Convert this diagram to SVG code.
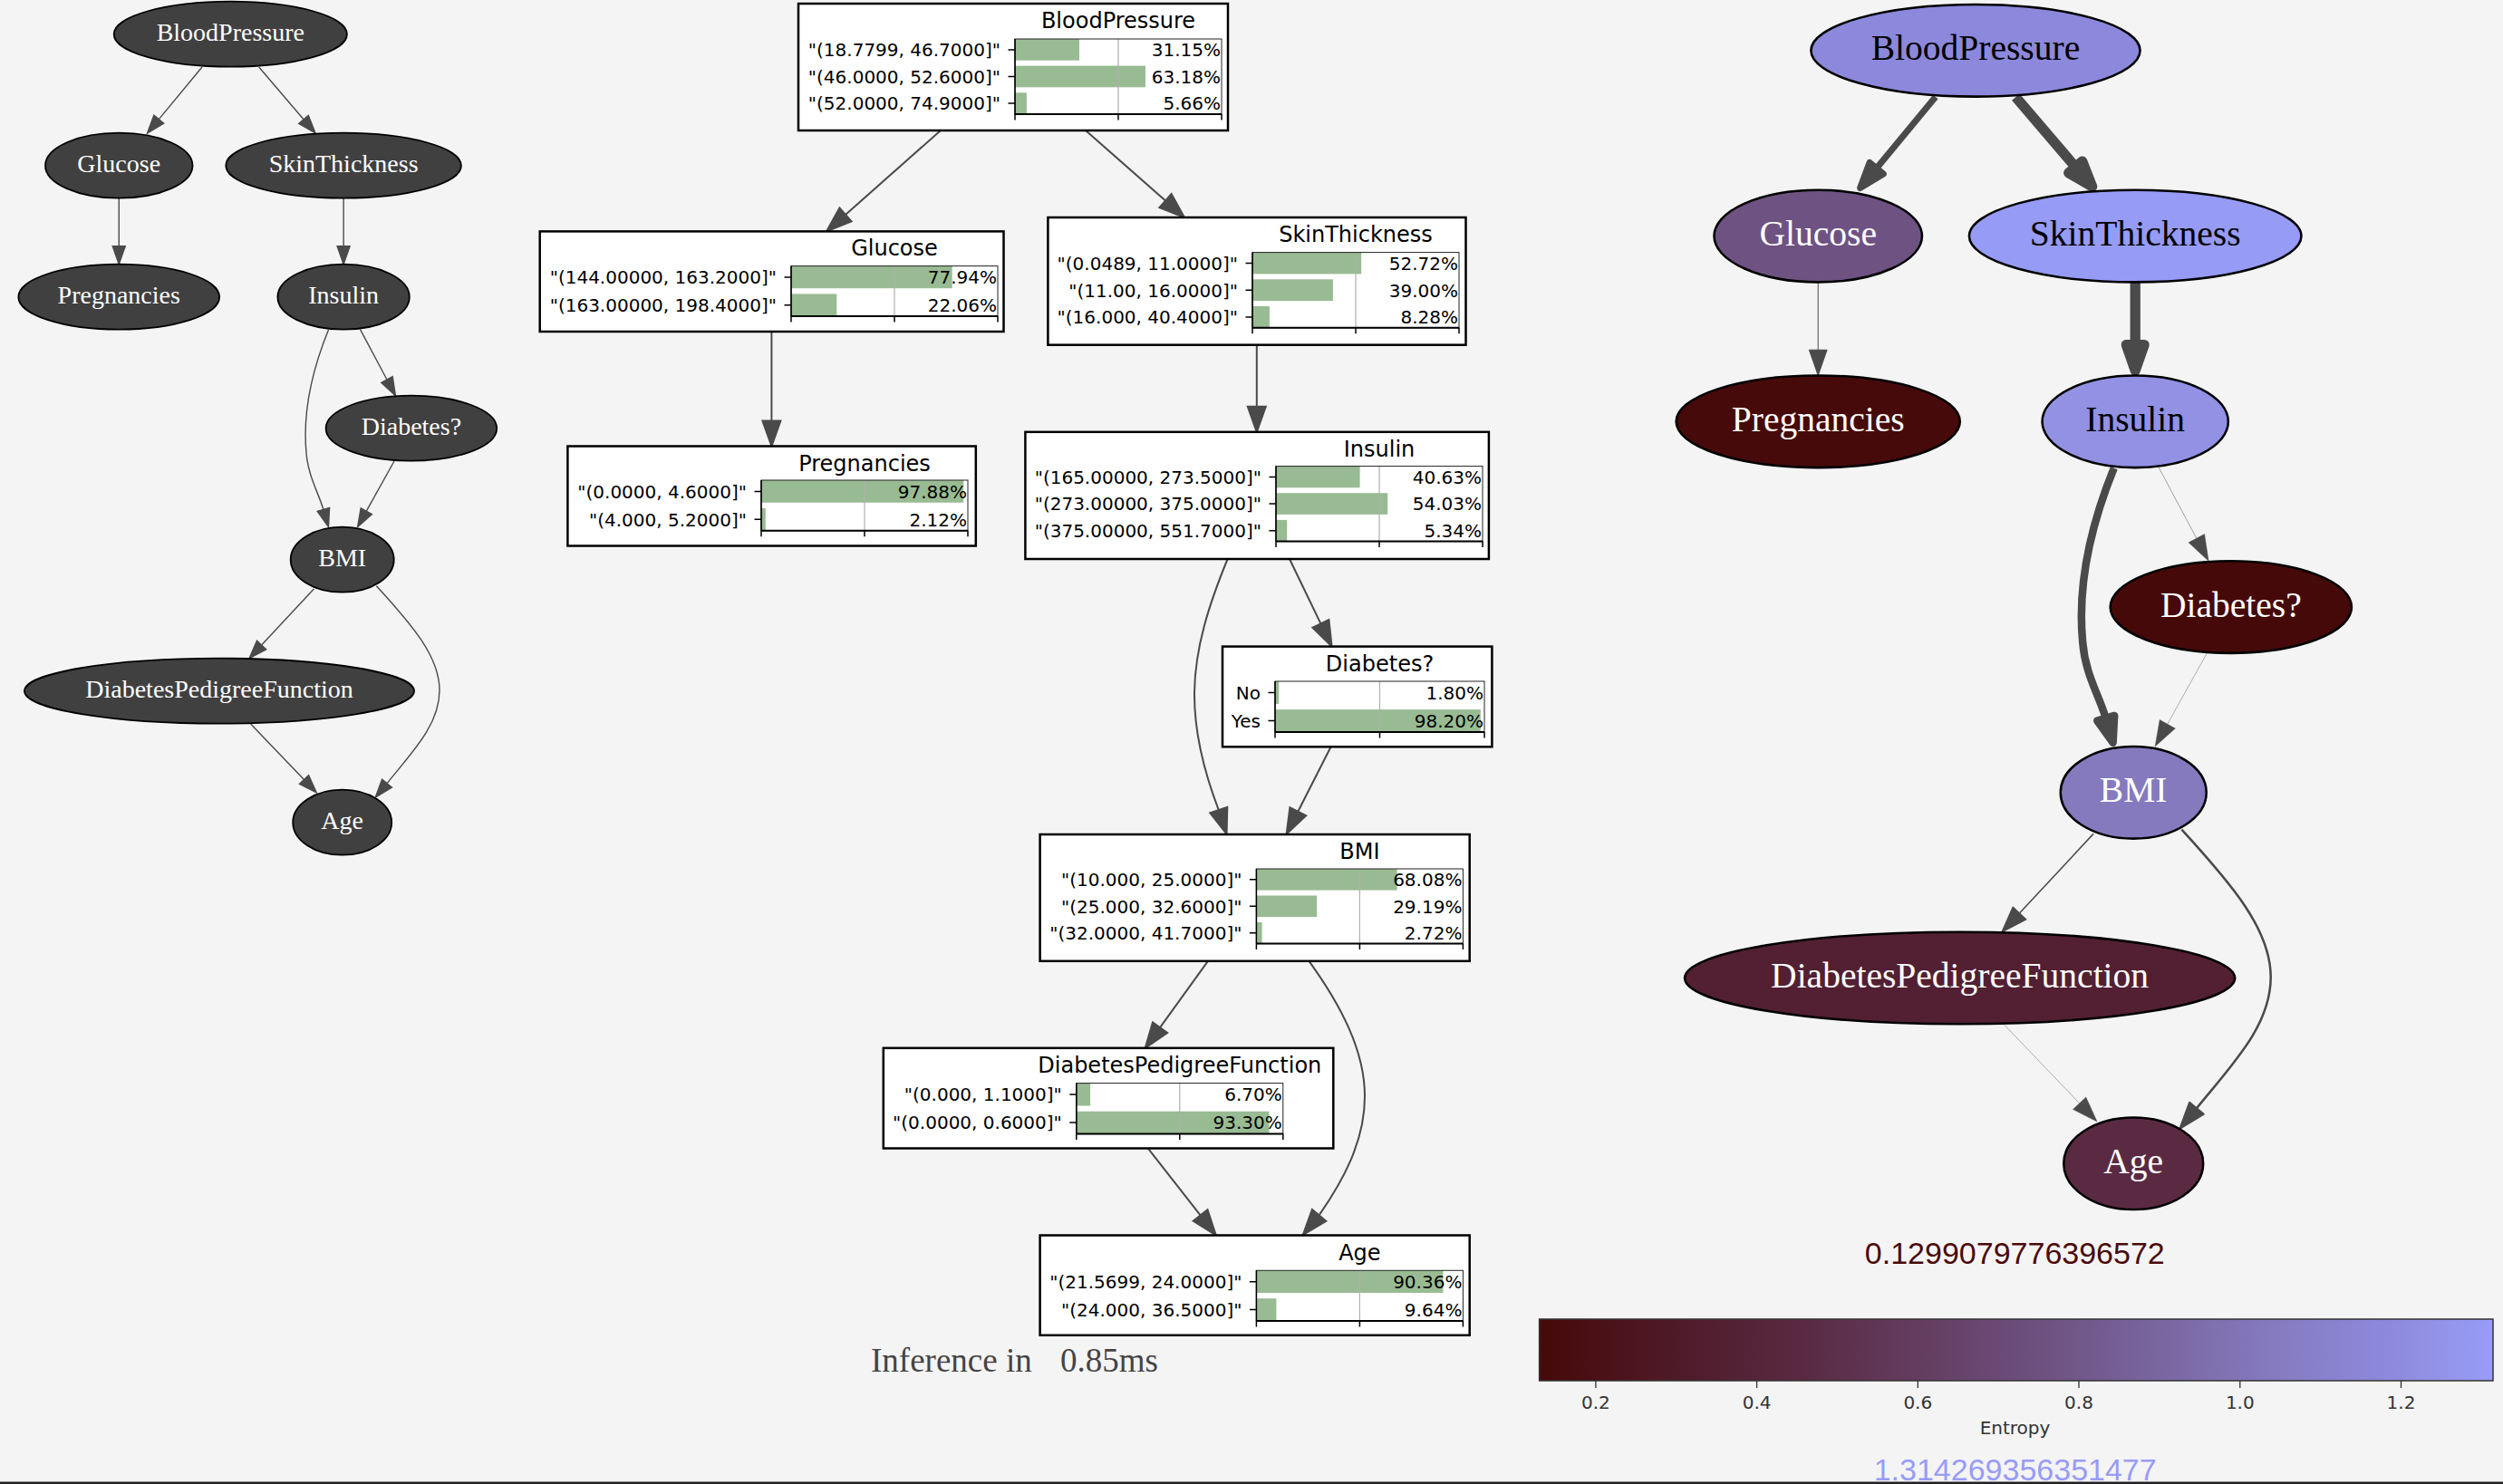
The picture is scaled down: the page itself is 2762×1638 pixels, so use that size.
<svg xmlns="http://www.w3.org/2000/svg" width="2762" height="1638" viewBox="0 0 2762 1638">
<defs>
<linearGradient id="cmap" x1="0" y1="0" x2="1" y2="0">
<stop offset="0" stop-color="#460909"/>
<stop offset="0.19" stop-color="#522032"/>
<stop offset="0.277" stop-color="#5a2a42"/>
<stop offset="0.533" stop-color="#6e5282"/>
<stop offset="0.766" stop-color="#857abe"/>
<stop offset="0.884" stop-color="#8c88db"/>
<stop offset="0.932" stop-color="#9291e4"/>
<stop offset="1" stop-color="#979cf8"/>
</linearGradient>
<style>
.gn{stroke:#000;stroke-width:1.8}
.gd{fill:#404040}
.gt{font-family:"Liberation Serif","Times New Roman",serif;font-size:28px;fill:#fff;text-anchor:middle}
.bk{fill:#000}
.ge{fill:none;stroke:#4a4a4a;stroke-width:1.4}
.ga{fill:#4a4a4a;stroke:#4a4a4a;stroke-width:1.4}
.re{fill:none;stroke:#4a4a4a}
.ra{fill:#4a4a4a;stroke:#4a4a4a;stroke-linejoin:round}
.me{fill:none;stroke:#4a4a4a;stroke-width:2}
.ma{fill:#4a4a4a;stroke:#4a4a4a;stroke-width:2}
.bx{fill:#fff;stroke:#000;stroke-width:2.5}
.ttl{font-family:"DejaVu Sans",sans-serif;font-size:24px;fill:#000;text-anchor:middle}
.lb{font-family:"DejaVu Sans",sans-serif;font-size:20px;fill:#000;text-anchor:end}
.cb{fill:#fff}
.fr{fill:none;stroke:#222;stroke-width:1}
.bar{fill:#99bb93}
.grd{stroke:#b0b0b0;stroke-width:1.2}
.ax{stroke:#000;stroke-width:2}
.tk{stroke:#000;stroke-width:1.5;fill:none}
.inf{font-family:"Liberation Serif","Times New Roman",serif;font-size:37px;fill:#444}
.ctk{font-family:"DejaVu Sans",sans-serif;font-size:20px;fill:#333;text-anchor:middle}
.num{font-family:"Liberation Sans",Arial,sans-serif;font-size:34px;text-anchor:middle}
</style>
</defs>
<rect x="0" y="0" width="2762" height="1638" fill="#f4f4f4"/>

<!-- LEFT GRAPH -->
<g id="left-connectors">
<path class="ge" d="M223,74 L175.3,131.6"/><polygon class="ga" points="162.5,147 169.9,127.1 180.7,136.1"/>
<path class="ge" d="M285.7,74 L335,131.8"/><polygon class="ga" points="348,147 329.7,136.3 340.3,127.3"/>
<path class="ge" d="M131.25,218.7 L131.25,271.7"/><polygon class="ga" points="131.25,291.7 124.25,271.7 138.25,271.7"/>
<path class="ge" d="M379.1,218.7 L379.1,271.7"/><polygon class="ga" points="379.1,291.7 372.1,271.7 386.1,271.7"/>
<path class="ge" d="M397.5,363.6 L427,419"/><polygon class="ga" points="436.4,436.7 420.8,422.3 433.2,415.7"/>
<path class="ge" d="M362.5,364 C343,412 334,458 338,500 C340,525 351,543 356.9,562.5"/><polygon class="ga" points="362.5,581.7 350.2,564.5 363.6,560.5"/>
<path class="ge" d="M435,509 L404.3,564.2"/><polygon class="ga" points="394.6,581.7 398.2,560.8 410.4,567.6"/>
<path class="ge" d="M346.4,650 L288.6,712.1"/><polygon class="ga" points="275,726.7 283.5,707.3 293.7,716.9"/>
<path class="ge" d="M415.4,646.7 C455,690 485,725 485,762 C485,800 455,830 427,864.6"/><polygon class="ga" points="414.3,880 421.6,860.2 432.4,869.1"/>
<path class="ge" d="M276.8,799.3 L335.5,860.6"/><polygon class="ga" points="349.3,875 330.4,865.4 340.6,855.8"/>
</g>
<g id="left-BloodPressure"><ellipse class="gn gd" cx="254.3" cy="37.7" rx="128.6" ry="36"/><text class="gt" x="254.3" y="45.2">BloodPressure</text></g>
<g id="left-Glucose"><ellipse class="gn gd" cx="131.25" cy="182.7" rx="81.25" ry="36"/><text class="gt" x="131.25" y="190.2">Glucose</text></g>
<g id="left-SkinThickness"><ellipse class="gn gd" cx="379.1" cy="182.7" rx="129.8" ry="36"/><text class="gt" x="379.1" y="190.2">SkinThickness</text></g>
<g id="left-Pregnancies"><ellipse class="gn gd" cx="131.25" cy="327.7" rx="110.9" ry="36"/><text class="gt" x="131.25" y="335.2">Pregnancies</text></g>
<g id="left-Insulin"><ellipse class="gn gd" cx="379.1" cy="327.7" rx="72.7" ry="36"/><text class="gt" x="379.1" y="335.2">Insulin</text></g>
<g id="left-Diabetes"><ellipse class="gn gd" cx="453.9" cy="472.7" rx="94.3" ry="36"/><text class="gt" x="453.9" y="480.2">Diabetes?</text></g>
<g id="left-BMI"><ellipse class="gn gd" cx="377.7" cy="617.7" rx="57" ry="36"/><text class="gt" x="377.7" y="625.2">BMI</text></g>
<g id="left-DiabetesPedigreeFunction"><ellipse class="gn gd" cx="242" cy="762.7" rx="215" ry="36"/><text class="gt" x="242" y="770.2">DiabetesPedigreeFunction</text></g>
<g id="left-Age"><ellipse class="gn gd" cx="377.7" cy="907.7" rx="54.5" ry="36"/><text class="gt" x="377.7" y="915.2">Age</text></g>

<!-- MIDDLE GRAPH -->
<g id="mid-connectors">
<path class="me" d="M1038,144 L933,236.9"/><polygon class="ma" points="912,255.4 926.4,229.4 939.6,244.4"/>
<path class="me" d="M1198,144 L1286,221.5"/><polygon class="ma" points="1307,240 1279.4,229 1292.6,214"/>
<path class="me" d="M851.4,366 L851.4,464.5"/><polygon class="ma" points="851.4,492.5 841.4,464.5 861.4,464.5"/>
<path class="me" d="M1386.8,380.7 L1386.8,448.8"/><polygon class="ma" points="1386.8,476.8 1376.8,448.8 1396.8,448.8"/>
<path class="me" d="M1423,617 L1457.4,688.4"/><polygon class="ma" points="1469.6,713.6 1448.4,692.7 1466.4,684.1"/>
<path class="me" d="M1354.6,617 C1335,665 1318,715 1318,767 C1318,815 1331,858 1344.8,894.1"/><polygon class="ma" points="1353.6,920.7 1335.3,897.3 1354.3,890.9"/>
<path class="me" d="M1468.6,824.3 L1432.3,895.7"/><polygon class="ma" points="1419.6,920.7 1423.4,891.2 1441.2,900.2"/>
<path class="me" d="M1332.9,1060.8 L1280.1,1134.1"/><polygon class="ma" points="1263.7,1156.8 1272,1128.3 1288.2,1140"/>
<path class="me" d="M1444.5,1060.8 C1480,1110 1506,1160 1506,1210 C1506,1260 1482,1303 1455.6,1341.4"/><polygon class="ma" points="1437.8,1363 1447.9,1335 1463.3,1347.8"/>
<path class="me" d="M1266.8,1267.5 L1324.6,1341.4"/><polygon class="ma" points="1341.8,1363.5 1316.7,1347.6 1332.5,1335.2"/>
</g>

<g id="mid-BloodPressure">
<rect class="bx" x="881" y="4" width="474" height="140"/>
<text class="ttl" x="1234" y="31">BloodPressure</text>
<rect class="cb" x="1120" y="43" width="228" height="83"/>
<rect class="bar" x="1120" y="43" width="71" height="23.7"/>
<rect class="bar" x="1120" y="72.6" width="144" height="23.7"/>
<rect class="bar" x="1120" y="102.3" width="12.9" height="23.7"/>
<line class="grd" x1="1234" y1="43" x2="1234" y2="126"/>
<rect class="fr" x="1120" y="43" width="228" height="83"/>
<line class="ax" x1="1120" y1="126" x2="1348" y2="126"/>
<path class="tk" d="M1120,126v6.5M1234,126v6.5M1348,126v6.5M1112.5,54.9h7.5M1112.5,84.5h7.5M1112.5,114.1h7.5M1120,43v83"/>
<text class="lb" x="1104" y="62.2">"(18.7799, 46.7000]"</text>
<text class="lb" x="1104" y="91.8">"(46.0000, 52.6000]"</text>
<text class="lb" x="1104" y="121.4">"(52.0000, 74.9000]"</text>
<text class="lb" x="1347" y="62.2">31.15%</text>
<text class="lb" x="1347" y="91.8">63.18%</text>
<text class="lb" x="1347" y="121.4">5.66%</text>
</g>

<g id="mid-Glucose">
<rect class="bx" x="595.7" y="255.4" width="511.8" height="110.6"/>
<text class="ttl" x="987" y="282.4">Glucose</text>
<rect class="cb" x="873" y="293.6" width="228" height="55.4"/>
<rect class="bar" x="873" y="293.6" width="177.7" height="24.6"/>
<rect class="bar" x="873" y="324.4" width="50.3" height="24.6"/>
<line class="grd" x1="987" y1="293.6" x2="987" y2="349"/>
<rect class="fr" x="873" y="293.6" width="228" height="55.4"/>
<line class="ax" x1="873" y1="349" x2="1101" y2="349"/>
<path class="tk" d="M873,349v6.5M987,349v6.5M1101,349v6.5M865.5,305.9h7.5M865.5,336.7h7.5M873,293.6v55.4"/>
<text class="lb" x="857" y="313.2">"(144.00000, 163.2000]"</text>
<text class="lb" x="857" y="344">"(163.00000, 198.4000]"</text>
<text class="lb" x="1100" y="313.2">77.94%</text>
<text class="lb" x="1100" y="344">22.06%</text>
</g>

<g id="mid-SkinThickness">
<rect class="bx" x="1156.4" y="240" width="461.1" height="140.7"/>
<text class="ttl" x="1496" y="267">SkinThickness</text>
<rect class="cb" x="1382" y="278.6" width="228" height="83.2"/>
<rect class="bar" x="1382" y="278.6" width="120.2" height="23.8"/>
<rect class="bar" x="1382" y="308.3" width="88.9" height="23.8"/>
<rect class="bar" x="1382" y="338" width="18.9" height="23.8"/>
<line class="grd" x1="1496" y1="278.6" x2="1496" y2="361.8"/>
<rect class="fr" x="1382" y="278.6" width="228" height="83.2"/>
<line class="ax" x1="1382" y1="361.8" x2="1610" y2="361.8"/>
<path class="tk" d="M1382,361.8v6.5M1496,361.8v6.5M1610,361.8v6.5M1374.5,290.5h7.5M1374.5,320.2h7.5M1374.5,349.9h7.5M1382,278.6v83.2"/>
<text class="lb" x="1366" y="297.8">"(0.0489, 11.0000]"</text>
<text class="lb" x="1366" y="327.5">"(11.00, 16.0000]"</text>
<text class="lb" x="1366" y="357.2">"(16.000, 40.4000]"</text>
<text class="lb" x="1609" y="297.8">52.72%</text>
<text class="lb" x="1609" y="327.5">39.00%</text>
<text class="lb" x="1609" y="357.2">8.28%</text>
</g>

<g id="mid-Pregnancies">
<rect class="bx" x="626.4" y="492.5" width="450.4" height="110"/>
<text class="ttl" x="954" y="519.5">Pregnancies</text>
<rect class="cb" x="840" y="530" width="228" height="55.7"/>
<rect class="bar" x="840" y="530" width="223.2" height="24.75"/>
<rect class="bar" x="840" y="560.9" width="4.8" height="24.75"/>
<line class="grd" x1="954" y1="530" x2="954" y2="585.7"/>
<rect class="fr" x="840" y="530" width="228" height="55.7"/>
<line class="ax" x1="840" y1="585.7" x2="1068" y2="585.7"/>
<path class="tk" d="M840,585.7v6.5M954,585.7v6.5M1068,585.7v6.5M832.5,542.4h7.5M832.5,573.3h7.5M840,530v55.7"/>
<text class="lb" x="824" y="549.7">"(0.0000, 4.6000]"</text>
<text class="lb" x="824" y="580.6">"(4.000, 5.2000]"</text>
<text class="lb" x="1067" y="549.7">97.88%</text>
<text class="lb" x="1067" y="580.6">2.12%</text>
</g>

<g id="mid-Insulin">
<rect class="bx" x="1131.4" y="476.8" width="511.5" height="140.2"/>
<text class="ttl" x="1522" y="503.8">Insulin</text>
<rect class="cb" x="1408" y="514.6" width="228" height="83"/>
<rect class="bar" x="1408" y="514.6" width="92.6" height="23.7"/>
<rect class="bar" x="1408" y="544.2" width="123.2" height="23.7"/>
<rect class="bar" x="1408" y="573.9" width="12.2" height="23.7"/>
<line class="grd" x1="1522" y1="514.6" x2="1522" y2="597.6"/>
<rect class="fr" x="1408" y="514.6" width="228" height="83"/>
<line class="ax" x1="1408" y1="597.6" x2="1636" y2="597.6"/>
<path class="tk" d="M1408,597.6v6.5M1522,597.6v6.5M1636,597.6v6.5M1400.5,526.5h7.5M1400.5,556.1h7.5M1400.5,585.7h7.5M1408,514.6v83"/>
<text class="lb" x="1392" y="533.8">"(165.00000, 273.5000]"</text>
<text class="lb" x="1392" y="563.4">"(273.00000, 375.0000]"</text>
<text class="lb" x="1392" y="593">"(375.00000, 551.7000]"</text>
<text class="lb" x="1635" y="533.8">40.63%</text>
<text class="lb" x="1635" y="563.4">54.03%</text>
<text class="lb" x="1635" y="593">5.34%</text>
</g>

<g id="mid-Diabetes">
<rect class="bx" x="1349" y="713.6" width="297.4" height="110.7"/>
<text class="ttl" x="1522.5" y="740.6">Diabetes?</text>
<rect class="cb" x="1407" y="752" width="231" height="56"/>
<rect class="bar" x="1407" y="752" width="4.2" height="24.9"/>
<rect class="bar" x="1407" y="783.1" width="226.8" height="24.9"/>
<line class="grd" x1="1522.5" y1="752" x2="1522.5" y2="808"/>
<rect class="fr" x="1407" y="752" width="231" height="56"/>
<line class="ax" x1="1407" y1="808" x2="1638" y2="808"/>
<path class="tk" d="M1407,808v6.5M1522.5,808v6.5M1638,808v6.5M1399.5,764.4h7.5M1399.5,795.5h7.5M1407,752v56"/>
<text class="lb" x="1391" y="771.7">No</text>
<text class="lb" x="1391" y="802.8">Yes</text>
<text class="lb" x="1637" y="771.7">1.80%</text>
<text class="lb" x="1637" y="802.8">98.20%</text>
</g>

<g id="mid-BMI">
<rect class="bx" x="1147.6" y="921" width="474.1" height="139.8"/>
<text class="ttl" x="1500.4" y="948">BMI</text>
<rect class="cb" x="1386.4" y="959" width="228" height="82.6"/>
<rect class="bar" x="1386.4" y="959" width="155.2" height="23.6"/>
<rect class="bar" x="1386.4" y="988.5" width="66.6" height="23.6"/>
<rect class="bar" x="1386.4" y="1018" width="6.2" height="23.6"/>
<line class="grd" x1="1500.4" y1="959" x2="1500.4" y2="1041.6"/>
<rect class="fr" x="1386.4" y="959" width="228" height="82.6"/>
<line class="ax" x1="1386.4" y1="1041.6" x2="1614.4" y2="1041.6"/>
<path class="tk" d="M1386.4,1041.6v6.5M1500.4,1041.6v6.5M1614.4,1041.6v6.5M1378.9,970.8h7.5M1378.9,1000.3h7.5M1378.9,1029.8h7.5M1386.4,959v82.6"/>
<text class="lb" x="1370.4" y="978.1">"(10.000, 25.0000]"</text>
<text class="lb" x="1370.4" y="1007.6">"(25.000, 32.6000]"</text>
<text class="lb" x="1370.4" y="1037.1">"(32.0000, 41.7000]"</text>
<text class="lb" x="1613.4" y="978.1">68.08%</text>
<text class="lb" x="1613.4" y="1007.6">29.19%</text>
<text class="lb" x="1613.4" y="1037.1">2.72%</text>
</g>

<g id="mid-DiabetesPedigreeFunction">
<rect class="bx" x="974.8" y="1156.8" width="496.5" height="110.7"/>
<text class="ttl" x="1301.8" y="1183.8">DiabetesPedigreeFunction</text>
<rect class="cb" x="1187.8" y="1195.6" width="228" height="56"/>
<rect class="bar" x="1187.8" y="1195.6" width="15.3" height="24.9"/>
<rect class="bar" x="1187.8" y="1226.7" width="212.7" height="24.9"/>
<line class="grd" x1="1301.8" y1="1195.6" x2="1301.8" y2="1251.6"/>
<rect class="fr" x="1187.8" y="1195.6" width="228" height="56"/>
<line class="ax" x1="1187.8" y1="1251.6" x2="1415.8" y2="1251.6"/>
<path class="tk" d="M1187.8,1251.6v6.5M1301.8,1251.6v6.5M1415.8,1251.6v6.5M1180.3,1208h7.5M1180.3,1239.1h7.5M1187.8,1195.6v56"/>
<text class="lb" x="1171.8" y="1215.3">"(0.000, 1.1000]"</text>
<text class="lb" x="1171.8" y="1246.4">"(0.0000, 0.6000]"</text>
<text class="lb" x="1414.8" y="1215.3">6.70%</text>
<text class="lb" x="1414.8" y="1246.4">93.30%</text>
</g>

<g id="mid-Age">
<rect class="bx" x="1147.6" y="1363.5" width="474.1" height="110.3"/>
<text class="ttl" x="1500.4" y="1390.5">Age</text>
<rect class="cb" x="1386.4" y="1402.3" width="228" height="55.7"/>
<rect class="bar" x="1386.4" y="1402.3" width="206" height="24.75"/>
<rect class="bar" x="1386.4" y="1433.2" width="22" height="24.75"/>
<line class="grd" x1="1500.4" y1="1402.3" x2="1500.4" y2="1458"/>
<rect class="fr" x="1386.4" y="1402.3" width="228" height="55.7"/>
<line class="ax" x1="1386.4" y1="1458" x2="1614.4" y2="1458"/>
<path class="tk" d="M1386.4,1458v6.5M1500.4,1458v6.5M1614.4,1458v6.5M1378.9,1414.7h7.5M1378.9,1445.6h7.5M1386.4,1402.3v55.7"/>
<text class="lb" x="1370.4" y="1422">"(21.5699, 24.0000]"</text>
<text class="lb" x="1370.4" y="1452.9">"(24.000, 36.5000]"</text>
<text class="lb" x="1613.4" y="1422">90.36%</text>
<text class="lb" x="1613.4" y="1452.9">9.64%</text>
</g>

<text class="inf" x="961" y="1514">Inference in<tspan x="1170">0.85ms</tspan></text>

<!-- RIGHT GRAPH -->
<g transform="translate(1820.9,2.58) scale(1.412)">
<g id="right-connectors">
<path class="re" stroke-width="5" d="M223,74 L176.9,129.7"/><polygon class="ra" stroke-width="5" points="164.1,145.1 171.5,125.2 182.3,134.2"/>
<path class="re" stroke-width="8" d="M285.7,74 L332.4,128.8"/><polygon class="ra" stroke-width="8" points="345.4,144 327.1,133.3 337.7,124.3"/>
<path class="re" stroke-width="0.7" d="M131.25,218.7 L131.25,271.7"/><polygon class="ra" stroke-width="0.7" points="131.25,291.7 124.25,271.7 138.25,271.7"/>
<path class="re" stroke-width="8" d="M379.1,218.7 L379.1,267.7"/><polygon class="ra" stroke-width="8" points="379.1,287.7 372.1,267.7 386.1,267.7"/>
<path class="re" stroke-width="0.35" d="M397.5,363.6 L427,419"/><polygon class="ra" stroke-width="0.35" points="436.4,436.7 420.8,422.3 433.2,415.7"/>
<path class="re" stroke-width="6" d="M362.5,364 C343,412 334,458 338,500 C340,525 350.5,541 356.1,559.6"/><polygon class="ra" stroke-width="6" points="361.7,578.8 349.4,561.6 362.8,557.6"/>
<path class="re" stroke-width="0.3" d="M435,509 L404.3,564.2"/><polygon class="ra" stroke-width="0.3" points="394.6,581.7 398.2,560.8 410.4,567.6"/>
<path class="re" stroke-width="1.1" d="M346.4,650 L288.6,712.1"/><polygon class="ra" stroke-width="1.1" points="275,726.7 283.5,707.3 293.7,716.9"/>
<path class="re" stroke-width="1.8" d="M415.4,646.7 C455,690 485,725 485,762 C485,800 455,830 427,864.6"/><polygon class="ra" stroke-width="1.8" points="414.3,880 421.6,860.2 432.4,869.1"/>
<path class="re" stroke-width="0.3" d="M276.8,799.3 L335.5,860.6"/><polygon class="ra" stroke-width="0.3" points="349.3,875 330.4,865.4 340.6,855.8"/>
</g>
<g id="right-BloodPressure"><ellipse class="gn" fill="#8c88db" cx="254.3" cy="37.7" rx="128.6" ry="36"/><text class="gt bk" x="254.3" y="45.2">BloodPressure</text></g>
<g id="right-Glucose"><ellipse class="gn" fill="#6e5282" cx="131.25" cy="182.7" rx="81.25" ry="36"/><text class="gt" x="131.25" y="190.2">Glucose</text></g>
<g id="right-SkinThickness"><ellipse class="gn" fill="#969bf5" cx="379.1" cy="182.7" rx="129.8" ry="36"/><text class="gt bk" x="379.1" y="190.2">SkinThickness</text></g>
<g id="right-Pregnancies"><ellipse class="gn" fill="#460a0a" cx="131.25" cy="327.7" rx="110.9" ry="36"/><text class="gt" x="131.25" y="335.2">Pregnancies</text></g>
<g id="right-Insulin"><ellipse class="gn" fill="#9291e4" cx="379.1" cy="327.7" rx="72.7" ry="36"/><text class="gt bk" x="379.1" y="335.2">Insulin</text></g>
<g id="right-Diabetes"><ellipse class="gn" fill="#460909" cx="453.9" cy="472.7" rx="94.3" ry="36"/><text class="gt" x="453.9" y="480.2">Diabetes?</text></g>
<g id="right-BMI"><ellipse class="gn" fill="#857abe" cx="377.7" cy="617.7" rx="57" ry="36"/><text class="gt" x="377.7" y="625.2">BMI</text></g>
<g id="right-DiabetesPedigreeFunction"><ellipse class="gn" fill="#522032" cx="242" cy="762.7" rx="215" ry="36"/><text class="gt" x="242" y="770.2">DiabetesPedigreeFunction</text></g>
<g id="right-Age"><ellipse class="gn" fill="#5a2a42" cx="377.7" cy="907.7" rx="54.5" ry="36"/><text class="gt" x="377.7" y="915.2">Age</text></g>
</g>

<!-- COLORBAR -->
<g id="colorbar">
<text class="num" x="2223.3" y="1395" fill="#4a0a0a">0.1299079776396572</text>
<rect x="1698.6" y="1456" width="1052.4" height="68" fill="url(#cmap)" stroke="#333" stroke-width="1.5"/>
<path d="M1760.9,1524v8M1938.6,1524v8M2116.3,1524v8M2294,1524v8M2471.8,1524v8M2649.5,1524v8" stroke="#333" stroke-width="1.3"/>
<text class="ctk" x="1760.9" y="1555">0.2</text>
<text class="ctk" x="1938.6" y="1555">0.4</text>
<text class="ctk" x="2116.3" y="1555">0.6</text>
<text class="ctk" x="2294" y="1555">0.8</text>
<text class="ctk" x="2471.8" y="1555">1.0</text>
<text class="ctk" x="2649.5" y="1555">1.2</text>
<text class="ctk" x="2223.5" y="1583" font-size="19">Entropy</text>
<text class="num" x="2223.7" y="1634" fill="#989cf8">1.314269356351477</text>
</g>
<rect x="0" y="1635.5" width="2762" height="2.5" fill="#222"/>
</svg>
